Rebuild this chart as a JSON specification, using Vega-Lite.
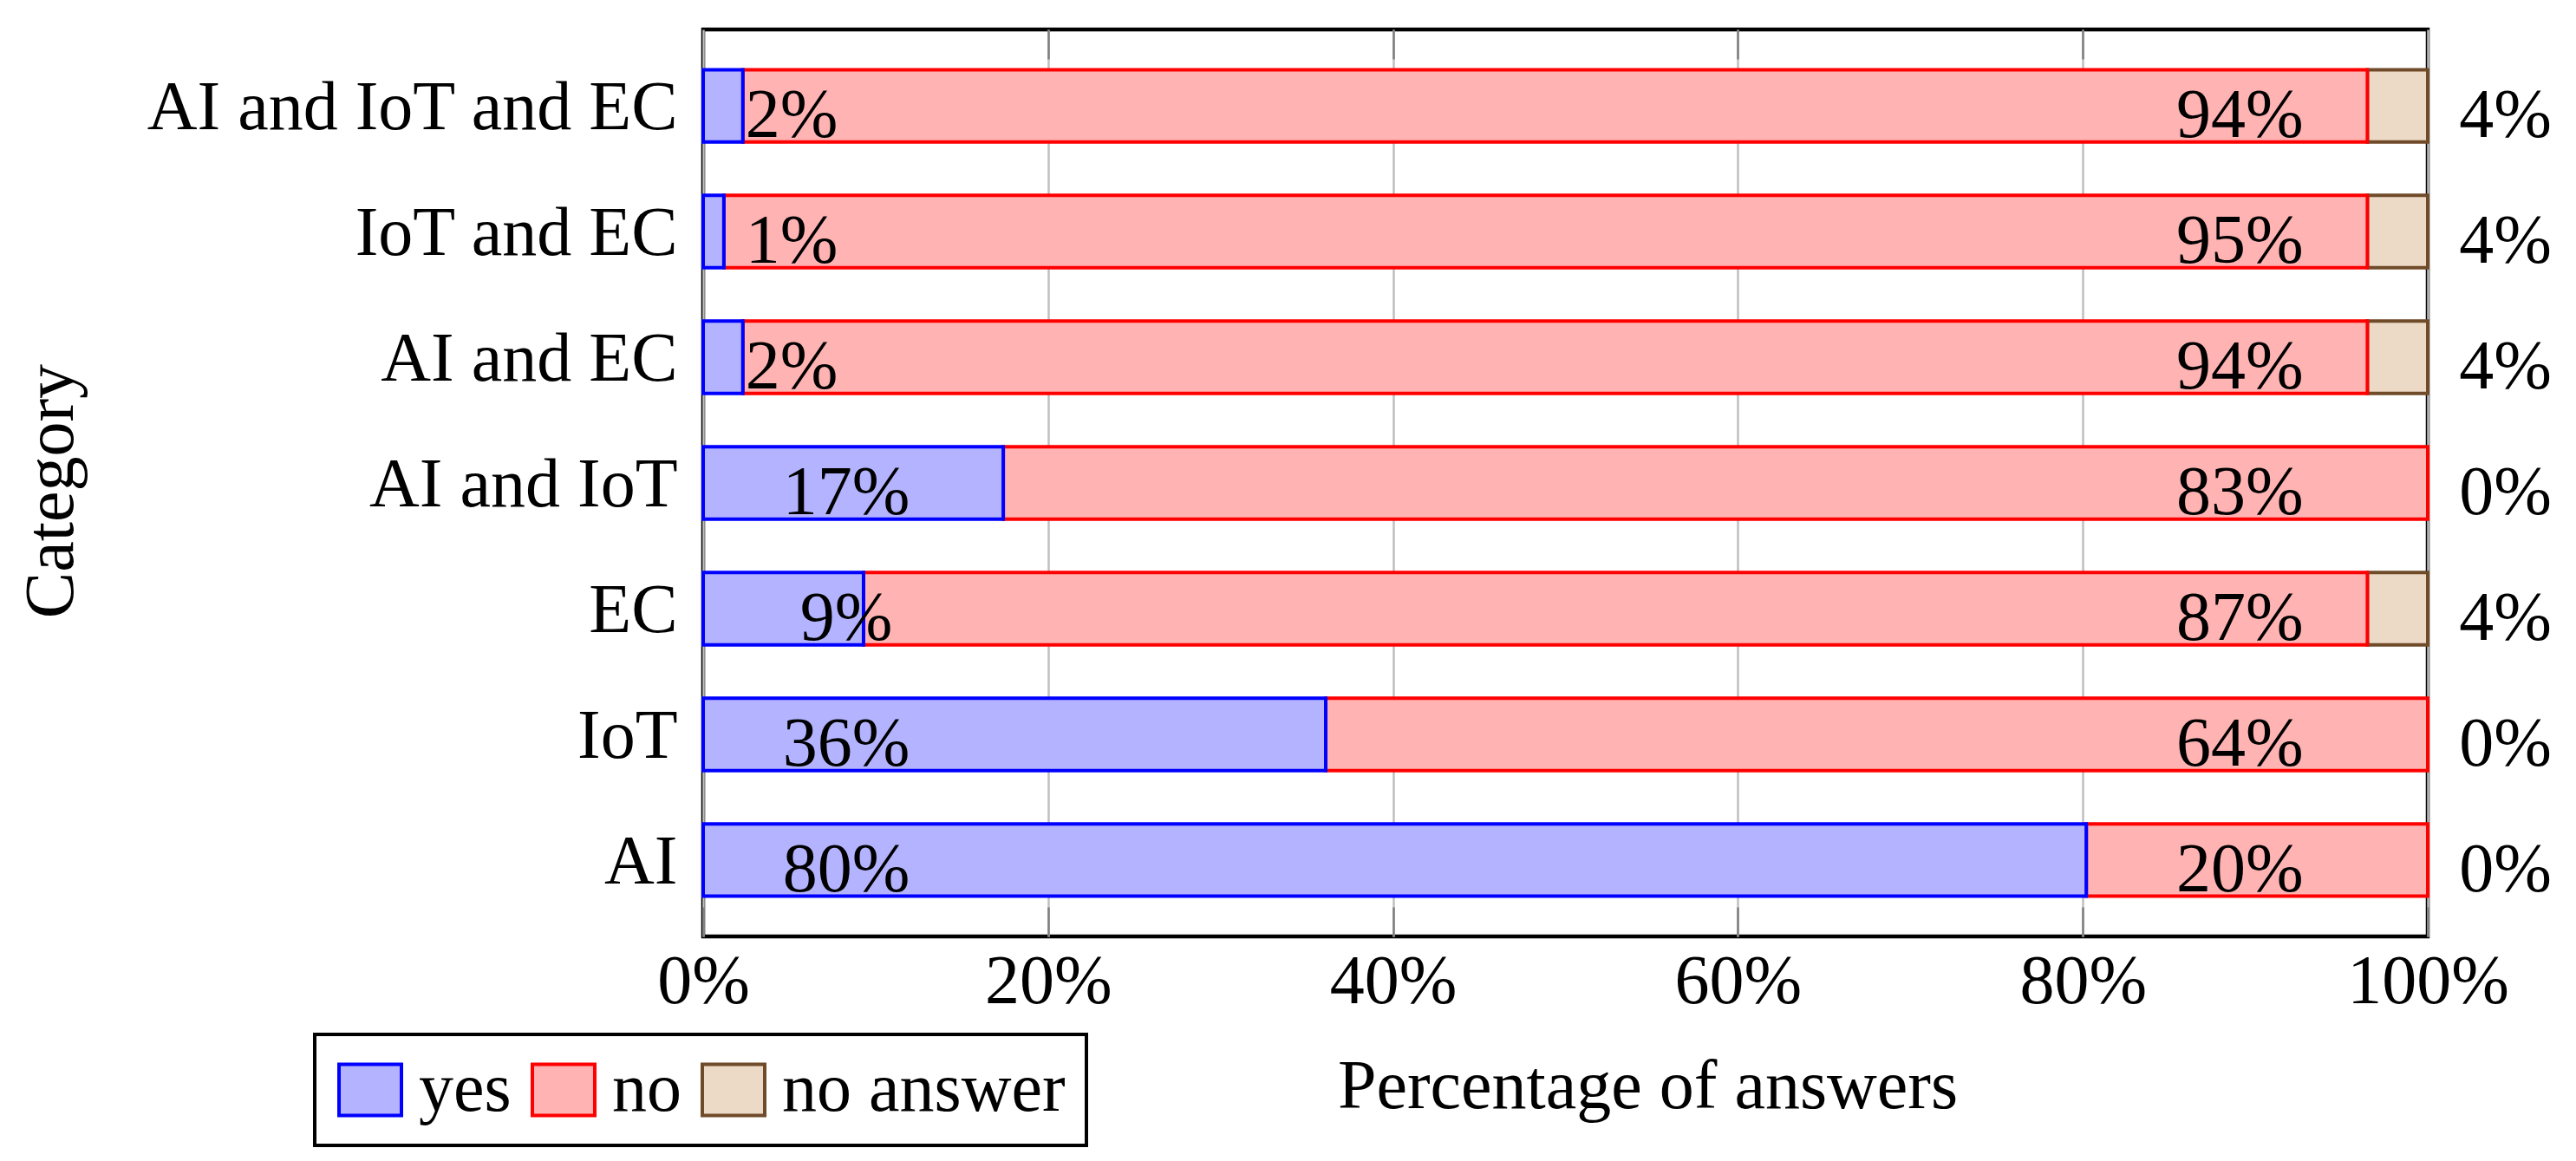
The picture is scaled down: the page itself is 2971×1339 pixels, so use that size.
{
  "$schema": "https://vega.github.io/schema/vega-lite/v6.json",
  "width": 1989,
  "height": 1046,
  "autosize": {"type": "none"},
  "padding": {"left": 811, "top": 34, "right": 171, "bottom": 259},
  "background": "white",
  "config": {
    "font": "Liberation Serif",
    "view": {"stroke": "black", "strokeWidth": 4.5}
  },
  "data": {
    "values": [
      {"category": "AI", "answer": "no answer", "share": 0, "label": "0%"},
      {"category": "AI", "answer": "no", "share": 0.198, "label": "20%"},
      {"category": "AI", "answer": "yes", "share": 0.802, "label": "80%"},
      {"category": "IoT", "answer": "no answer", "share": 0, "label": "0%"},
      {"category": "IoT", "answer": "no", "share": 0.639, "label": "64%"},
      {"category": "IoT", "answer": "yes", "share": 0.361, "label": "36%"},
      {"category": "EC", "answer": "no answer", "share": 0.035, "label": "4%"},
      {"category": "EC", "answer": "no", "share": 0.872, "label": "87%"},
      {"category": "EC", "answer": "yes", "share": 0.093, "label": "9%"},
      {"category": "AI and IoT", "answer": "no answer", "share": 0, "label": "0%"},
      {"category": "AI and IoT", "answer": "no", "share": 0.826, "label": "83%"},
      {"category": "AI and IoT", "answer": "yes", "share": 0.174, "label": "17%"},
      {"category": "AI and EC", "answer": "no answer", "share": 0.035, "label": "4%"},
      {"category": "AI and EC", "answer": "no", "share": 0.942, "label": "94%"},
      {"category": "AI and EC", "answer": "yes", "share": 0.023, "label": "2%"},
      {"category": "IoT and EC", "answer": "no answer", "share": 0.035, "label": "4%"},
      {"category": "IoT and EC", "answer": "no", "share": 0.953, "label": "95%"},
      {"category": "IoT and EC", "answer": "yes", "share": 0.012, "label": "1%"},
      {"category": "AI and IoT and EC", "answer": "no answer", "share": 0.035, "label": "4%"},
      {"category": "AI and IoT and EC", "answer": "no", "share": 0.942, "label": "94%"},
      {"category": "AI and IoT and EC", "answer": "yes", "share": 0.023, "label": "2%"}
    ]
  },
  "encoding": {
    "y": {
      "field": "category",
      "type": "nominal",
      "sort": ["AI and IoT and EC", "IoT and EC", "AI and EC", "AI and IoT", "EC", "IoT", "AI"],
      "scale": {"paddingInner": 0.425, "paddingOuter": 0.32},
      "axis": {
        "title": "Category",
        "ticks": false,
        "domain": false,
        "grid": false,
        "labelFontSize": 80,
        "labelColor": "black",
        "labelPadding": 30,
        "labelBaseline": "alphabetic",
        "labelOffset": 27,
        "labelLimit": 0,
        "titleFontSize": 80,
        "titleFontWeight": "normal",
        "titleColor": "black",
        "titleAngle": -90,
        "titleX": -728,
        "titleY": 532,
        "titleAlign": "center",
        "titleBaseline": "alphabetic"
      }
    }
  },
  "layer": [
    {
      "transform": [
        {"filter": "datum.share > 0"},
        {"calculate": "indexof(['yes','no','no answer'], datum.answer)", "as": "answer_order"}
      ],
      "mark": {"type": "bar", "strokeWidth": 4},
      "encoding": {
        "x": {
          "field": "share",
          "type": "quantitative",
          "stack": "zero",
          "scale": {"domain": [0, 1], "nice": false},
          "axis": {
            "orient": "bottom",
            "format": ".0%",
            "values": [0, 0.2, 0.4, 0.6, 0.8, 1],
            "grid": true,
            "gridColor": "#bfbfbf",
            "gridWidth": 2.5,
            "ticks": true,
            "tickSize": -34,
            "tickColor": "#7f7f7f",
            "tickWidth": 2.5,
            "domain": false,
            "labelFontSize": 80,
            "labelColor": "black",
            "labelPadding": 110,
            "labelBaseline": "alphabetic",
            "labelFlush": false,
            "labelOverlap": false,
            "labelLimit": 0,
            "title": "Percentage of answers",
            "titleFontSize": 80,
            "titleFontWeight": "normal",
            "titleColor": "black",
            "titleX": 1089,
            "titleY": 197,
            "titleAlign": "center",
            "titleBaseline": "alphabetic"
          }
        },
        "order": {"field": "answer_order", "type": "quantitative"},
        "color": {
          "field": "answer",
          "type": "nominal",
          "sort": ["yes", "no", "no answer"],
          "scale": {"domain": ["yes", "no", "no answer"], "range": ["#b3b3ff", "#ffb3b3", "#ecdac6"]},
          "legend": {
            "orient": "none",
            "legendX": -448,
            "legendY": 1159,
            "direction": "horizontal",
            "title": null,
            "labelFontSize": 80,
            "labelColor": "black",
            "symbolType": "M-1,-0.82H1V0.82H-1Z",
            "symbolSize": 5184,
            "symbolStrokeWidth": 4,
            "symbolOpacity": 1,
            "labelOffset": 16,
            "columnPadding": 16,
            "padding": 24,
            "strokeColor": "black",
            "labelLimit": 0,
            "encode": {"legend": {"update": {"strokeWidth": {"value": 4}}}}
          }
        },
        "stroke": {
          "field": "answer",
          "type": "nominal",
          "sort": ["yes", "no", "no answer"],
          "scale": {"domain": ["yes", "no", "no answer"], "range": ["#0000ff", "#ff0000", "#704b2a"]},
          "legend": {
            "orient": "none",
            "legendX": -448,
            "legendY": 1159,
            "direction": "horizontal",
            "title": null,
            "labelFontSize": 80,
            "labelColor": "black",
            "symbolType": "M-1,-0.82H1V0.82H-1Z",
            "symbolSize": 5184,
            "symbolStrokeWidth": 4,
            "symbolOpacity": 1,
            "labelOffset": 16,
            "columnPadding": 16,
            "padding": 24,
            "strokeColor": "black",
            "labelLimit": 0,
            "encode": {"legend": {"update": {"strokeWidth": {"value": 4}}}}
          }
        }
      }
    },
    {
      "transform": [{"filter": "datum.answer == 'yes' && datum.share >= 0.05"}],
      "mark": {"type": "text", "fontSize": 80, "align": "center", "baseline": "alphabetic", "dy": 36, "color": "black"},
      "encoding": {
        "x": {"datum": 0.083, "type": "quantitative", "scale": {"domain": [0, 1], "nice": false}, "axis": null},
        "text": {"field": "label"}
      }
    },
    {
      "transform": [{"filter": "datum.answer == 'yes' && datum.share < 0.05"}],
      "mark": {"type": "text", "fontSize": 80, "align": "left", "baseline": "alphabetic", "dy": 36, "color": "black"},
      "encoding": {
        "x": {"datum": 0.0245, "type": "quantitative", "scale": {"domain": [0, 1], "nice": false}, "axis": null},
        "text": {"field": "label"}
      }
    },
    {
      "transform": [{"filter": "datum.answer == 'no'"}],
      "mark": {"type": "text", "fontSize": 80, "align": "center", "baseline": "alphabetic", "dy": 36, "color": "black"},
      "encoding": {
        "x": {
          "datum": 0.891,
          "type": "quantitative",
          "scale": {"domain": [0, 1], "nice": false},
          "axis": {
            "orient": "top",
            "labels": false,
            "domain": false,
            "grid": false,
            "ticks": true,
            "tickSize": -34,
            "tickColor": "#7f7f7f",
            "tickWidth": 2.5,
            "values": [0.2, 0.4, 0.6, 0.8],
            "title": null
          }
        },
        "text": {"field": "label"}
      }
    },
    {
      "transform": [{"filter": "datum.answer == 'no answer'"}],
      "mark": {"type": "text", "fontSize": 80, "align": "center", "baseline": "alphabetic", "dy": 36, "color": "black"},
      "encoding": {
        "x": {"datum": 1.045, "type": "quantitative", "scale": {"domain": [0, 1], "nice": false}, "axis": null},
        "text": {"field": "label"}
      }
    }
  ],
  "resolve": {"axis": {"x": "independent"}}
}
